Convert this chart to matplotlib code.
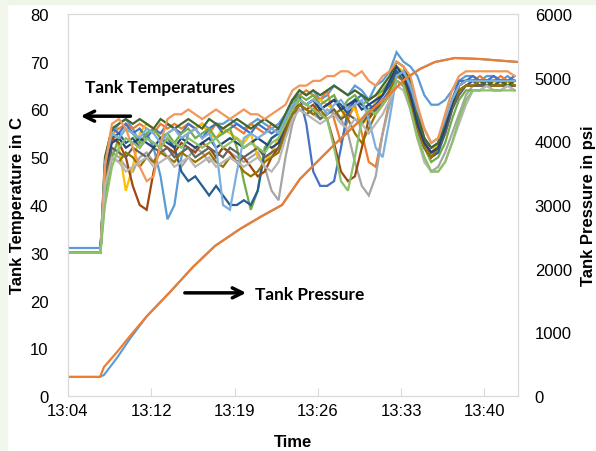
import matplotlib
matplotlib.use("Agg")
import matplotlib.pyplot as plt
from matplotlib.patches import Rectangle

# sample times in minutes after 13:04:48
minutes = [0.0, 2.8,
           3.2, 3.8, 4.4, 5.0, 5.6, 6.2, 6.8, 7.4, 8.0, 8.6,
           9.2, 9.8, 10.4, 11.0, 11.6, 12.2, 12.8, 13.4, 14.0, 14.6,
           15.2, 15.8, 16.4, 17.0, 17.6, 18.2, 18.8, 19.4, 20.0, 20.6,
           21.2, 21.8, 22.4, 23.0, 23.6, 24.2, 24.8, 25.4, 26.0, 26.6,
           27.2, 27.8, 28.4, 29.0, 29.6, 30.2, 30.8, 31.4, 32.0, 32.6,
           33.2, 33.8, 34.4, 35.0, 35.6, 36.2, 36.8, 37.4, 38.0, 38.6]

# tank temperatures (C), one list per thermocouple
tc01 = [31, 31, 47, 55, 57, 58, 56, 53, 55, 52, 46, 37, 40, 50,
        55, 56, 57, 56, 57, 57, 58, 57, 56, 57, 58, 57, 56, 57,
        59, 62, 64,
        63, 64, 62, 63, 65, 64, 63, 65, 64, 62, 65, 66, 68,
        72, 70, 69,
        67, 63, 61, 61, 62, 64,
        66, 67, 67, 66, 67, 67, 66, 67, 66]
tc02 = [30, 30, 48, 55, 56, 57, 56, 57, 56, 55, 57, 56, 57, 56, 57, 56,
        57, 55, 57, 56, 57, 56, 55, 57, 56, 55, 57, 56,
        58, 61, 63,
        64, 63, 62, 64, 58, 53, 58, 61, 55, 49, 48, 55, 62,
        67, 68, 66,
        60, 54, 50, 51, 56, 61,
        65, 66, 66, 67, 66, 66, 67, 66, 66]
tc03 = [30, 30, 45, 51, 50, 48, 47, 50, 51, 49, 52, 50, 51, 48, 50, 52,
        51, 49, 50, 52, 51, 50, 49, 50, 51, 48, 43, 41,
        50, 57, 61,
        60, 59, 58, 60, 59, 58, 55, 49, 44, 42, 46, 55, 61,
        66, 65, 62,
        55, 50, 47, 48, 51, 55,
        59, 63, 65, 65, 66, 65, 65, 66, 65]
tc04 = [30, 30, 50, 56, 52, 43, 48, 55, 57, 56, 54, 55, 56, 54, 55, 56,
        57, 55, 54, 56, 55, 54, 53, 55, 50, 49, 51, 54,
        57, 60, 62,
        61, 60, 62, 61, 60, 58, 61, 60, 57, 58, 62, 64, 66,
        69, 68, 65,
        58, 53, 51, 53, 57, 62,
        65, 66, 66, 65, 66, 66, 65, 66, 65]
tc05 = [30, 30, 49, 56, 55, 57, 55, 56, 54, 56, 55, 57, 56, 55, 57, 56,
        54, 56, 57, 55, 56, 57, 56, 55, 57, 56, 55, 56,
        59, 62, 63,
        57, 47, 44, 44, 45, 52, 60, 62, 63, 61, 60, 62, 64,
        68, 67, 64,
        58, 54, 52, 53, 57, 62,
        66, 66, 67, 66, 66, 67, 66, 66, 67]
tc06 = [30, 30, 42, 50, 54, 56, 55, 53, 55, 56, 54, 55, 53, 55, 56, 54,
        55, 56, 54, 55, 56, 52, 45, 39, 43, 52, 54, 55,
        58, 61, 63,
        62, 63, 61, 62, 63, 60, 62, 63, 61, 62, 63, 64, 66,
        68, 67, 63,
        57, 52, 49, 50, 53, 58,
        62, 64, 64, 64, 65, 64, 64, 65, 64]
tc07 = [30, 30, 46, 54, 55, 53, 54, 52, 54, 53, 52, 54, 52, 47,
        45, 46, 44, 42, 44, 42, 40, 40, 41, 40, 43, 51, 54, 55,
        58, 61, 62,
        61, 62, 60, 61, 62, 61, 59, 62, 61, 60, 61, 63, 65,
        68, 66, 63,
        57, 52, 50, 51, 55, 60,
        64, 65, 66, 65, 66, 65, 66, 65, 65]
tc08 = [30, 30, 47, 54, 53, 50, 44, 40, 39, 47, 53, 52, 51, 53, 52, 51,
        53, 52, 50, 52, 51, 49, 50, 48, 46, 47, 50, 52,
        56, 60, 61,
        60, 61, 59, 58, 53, 47, 45, 46, 52, 58, 60, 62, 63,
        66, 65, 61,
        56, 52, 50, 52, 56, 61,
        64, 65, 65, 65, 65, 65, 65, 65, 65]
tc09 = [30, 30, 46, 52, 51, 50, 52, 51, 50, 52, 51, 52, 50, 51, 52, 50,
        51, 52, 51, 50, 52, 51, 50, 51, 52, 50, 51, 52,
        55, 59, 60,
        59, 60, 58, 59, 60, 58, 59, 58, 57, 59, 60, 61, 63,
        66, 65, 62,
        57, 53, 51, 52, 55, 60,
        63, 65, 65, 65, 65, 65, 65, 65, 65]
tc10 = [30, 30, 45, 50, 49, 51, 50, 48, 50, 49, 51, 50, 49, 51, 50, 49,
        50, 51, 49, 48, 50, 49, 47, 46, 47, 49, 50, 51,
        55, 59, 61,
        60, 59, 60, 58, 59, 60, 58, 55, 53, 56, 59, 61, 64,
        67, 66, 62,
        56, 52, 50, 52, 56, 61,
        64, 65, 65, 66, 65, 65, 65, 66, 65]
tc11 = [30, 30, 48, 53, 54, 52, 53, 54, 53, 52, 54, 53, 52, 54, 53, 52,
        53, 54, 52, 53, 54, 53, 52, 53, 54, 53, 52, 53,
        57, 60, 62,
        61, 62, 60, 61, 62, 60, 61, 62, 60, 61, 62, 63, 66,
        69, 67, 63,
        57, 53, 51, 52, 56, 61,
        65, 66, 66, 66, 66, 66, 66, 66, 66]
tc12 = [30, 30, 50, 56, 57, 58, 57, 58, 57, 56, 58, 57, 56, 57, 58, 57,
        56, 58, 57, 56, 57, 58, 57, 56, 57, 58, 57, 56,
        59, 62, 64,
        63, 64, 63, 64, 65, 64, 63, 64, 63, 62, 63, 65, 67,
        70, 69, 66,
        59, 54, 52, 53, 58, 62,
        65, 66, 66, 66, 65, 66, 66, 65, 66]
tc13 = [30, 30, 49, 55, 54, 56, 55, 54, 56, 55, 53, 55, 56, 54, 55, 56,
        54, 55, 52, 40, 39, 47, 54, 55, 54, 55, 56, 55,
        58, 61, 62,
        61, 62, 61, 59, 61, 62, 60, 61, 62, 58, 52, 50, 58,
        67, 68, 65,
        60, 56, 53, 54, 58, 62,
        65, 66, 66, 66, 66, 66, 66, 66, 66]
tc14 = [30, 30, 48, 57, 58, 56, 52, 48, 45, 46, 53, 58, 59, 59, 60, 59,
        58, 59, 60, 59, 58, 59, 60, 59, 59, 58, 59, 60,
        61, 64, 65,
        65, 66, 66, 67, 67, 68, 68, 67, 68, 66, 65, 67, 68,
        70, 69, 67,
        61, 56, 53, 54, 59, 64,
        67, 68, 68, 68, 68, 68, 68, 68, 67]
tc15 = [30, 30, 44, 50, 49, 47, 48, 49, 50, 48, 49, 50, 48, 49, 50, 48,
        49, 50, 48, 49, 50, 49, 48, 49, 50, 48, 47, 49,
        54, 58, 60,
        59, 58, 57, 58, 59, 57, 56, 58, 57, 55, 57, 59, 62,
        65, 64, 60,
        54, 49, 47, 47, 49, 53,
        57, 61, 64, 64, 65, 64, 64, 65, 64]
tc16 = [30, 30, 40, 48, 52, 54, 53, 52, 54, 53, 52, 54, 53, 52, 54, 53,
        52, 53, 54, 52, 53, 54, 52, 53, 52, 51, 53, 54,
        57, 60, 62,
        61, 60, 59, 58, 52, 45, 43, 50, 58, 60, 59, 61, 63,
        66, 65, 60,
        54, 50, 47, 47, 49, 53,
        58, 62, 64, 64, 64, 64, 64, 64, 64]

temp_series = [tc01, tc02, tc03, tc04, tc05, tc06, tc07, tc08,
               tc09, tc10, tc11, tc12, tc13, tc14, tc15, tc16]
temp_colors = ["#5B9BD5", "#ED7D31", "#A5A5A5", "#FFC000",
               "#4472C4", "#70AD47", "#255E91", "#9E480E",
               "#636363", "#997300", "#264478", "#43682B",
               "#7CAFDD", "#F1975A", "#B7B7B7", "#8CC168"]

# tank pressure (psi)
p_minutes = [0.0, 2.77, 3.11, 4.24, 5.36, 6.83, 8.82, 10.80, 12.70,
             14.87, 16.77, 18.50, 20.05, 22.90, 25.84, 27.83, 29.13,
             30.42, 31.72, 33.45, 35.61, 38.89]
p_orange = [300, 300, 455, 691, 942, 1257, 1633, 2026, 2356,
            2623, 2827, 3000, 3408, 3926, 4429, 4743, 4979,
            5136, 5246, 5309, 5293, 5246]
p_blue = [300, 300, 330, 600, 900, 1257, 1633, 2026, 2356,
          2623, 2827, 3000, 3408, 3926, 4429, 4743, 4979,
          5136, 5246, 5309, 5293, 5246]

tick_pos = [0, 7.2, 14.4, 21.6, 28.8, 36.0]
tick_labels = ["13:04", "13:12", "13:19", "13:26", "13:33", "13:40"]

plt.rcParams["font.family"] = ["Liberation Sans", "DejaVu Sans"]

fig = plt.figure(figsize=(5.96, 4.52), dpi=100)
fig.patches.append(Rectangle((0, 0.99), 1, 0.01, transform=fig.transFigure,
                             color="#EEF5E9", zorder=-5))
fig.patches.append(Rectangle((0, 0), 0.012, 1, transform=fig.transFigure,
                             color="#F1F7EC", zorder=-5))

ax = fig.add_axes([68 / 596, 55 / 452, 450 / 596, 382 / 452])
ax2 = ax.twinx()

for vals, col in zip(temp_series, temp_colors):
    ax.plot(minutes, vals, color=col, lw=1.6, solid_joinstyle="miter")

ax2.plot(p_minutes, p_blue, color="#5B9BD5", lw=1.5)
ax2.plot(p_minutes, p_orange, color="#ED7D31", lw=1.6)

ax.set_xlim(0, 38.9)
ax.set_ylim(0, 80)
ax2.set_ylim(0, 6000)
ax.set_yticks(range(0, 81, 10))
ax2.set_yticks(range(0, 6001, 1000))
ax.set_xticks(tick_pos)
ax.set_xticklabels(tick_labels)

for a in (ax, ax2):
    for s in a.spines.values():
        s.set_color("#D9D9D9")
        s.set_linewidth(0.8)
ax.tick_params(axis="x", direction="in", length=6, color="#D9D9D9",
               labelsize=12, pad=5)
ax.tick_params(axis="y", length=0, labelsize=12, pad=14)
ax2.tick_params(axis="y", length=0, labelsize=12, pad=12)

ax.set_xlabel("Time", fontsize=12, fontweight="bold")
ax.set_ylabel("Tank Temperature in C", fontsize=12, fontweight="bold")
ax2.set_ylabel("Tank Pressure in psi", fontsize=12, fontweight="bold")
ax.xaxis.set_label_coords(0.5, -0.1)
ax.yaxis.set_label_coords(-0.095, 0.5)
ax2.yaxis.set_label_coords(1.14, 0.5)

ann_font = dict(family=["Lato", "DejaVu Sans"], fontweight="bold", fontsize=12.4)
ax.text(1.45, 64.7, "Tank Temperatures", va="center", ha="left", **ann_font)
ax.annotate("", xy=(1.1, 58.6), xytext=(5.4, 58.6),
            arrowprops=dict(arrowstyle="->", lw=2.5, color="black",
                            mutation_scale=18, shrinkA=0, shrinkB=0))
ax.text(16.2, 21.4, "Tank Pressure", va="center", ha="left", **ann_font)
ax.annotate("", xy=(15.4, 21.6), xytext=(10.1, 21.6),
            arrowprops=dict(arrowstyle="->", lw=2.5, color="black",
                            mutation_scale=18, shrinkA=0, shrinkB=0))

plt.savefig("out.png", dpi=100)
